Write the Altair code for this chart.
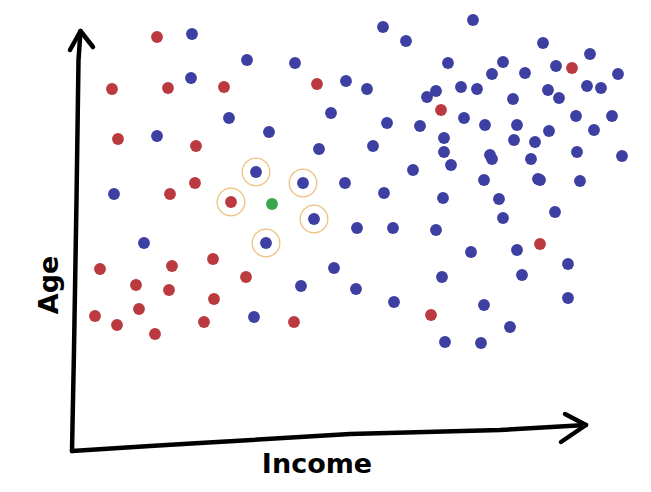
import altair as alt
import pandas as pd

# class A (red) points: income, age
red_income = [87, 42, 98, 154, 247, 48, 126, 100, 125, 161, 30, 102, 143, 176, 66, 99, 69, 144,
              25, 47, 85, 134, 224, 502, 371, 470, 361]
red_age = [415, 363, 364, 365, 368, 313, 306, 258, 269, 250, 183, 186, 193, 175, 167, 162, 143, 153,
           136, 127, 118, 130, 130, 384, 342, 208, 137]

# class B (blue) points
blue_income = [122, 313, 177, 225, 121, 276, 297, 159, 261, 317, 87, 199, 249, 303, 186, 233, 275, 314,
               44, 244, 287, 323, 74, 196, 403, 336, 473, 520, 378, 433, 422, 455, 486, 548, 366, 357,
               391, 407, 478, 489, 517, 531, 443, 350, 394, 415, 447, 506, 542, 479, 524, 374, 374, 381,
               444, 465, 420, 422, 461, 507, 552, 343, 414, 468, 470, 510, 373, 429, 485, 433, 366, 401,
               447, 498, 372, 452, 264, 231, 286, 324, 414, 498, 440, 375, 411, 184]
blue_age = [418, 425, 392, 389, 374, 371, 363, 334, 339, 329, 316, 320, 303, 306, 280, 269, 269, 259,
            258, 233, 224, 224, 209, 209, 432, 411, 409, 398, 389, 390, 378, 379, 386, 378, 361, 355,
            365, 363, 362, 354, 366, 364, 353, 326, 334, 327, 327, 336, 336, 321, 322, 314, 300, 287,
            312, 310, 297, 293, 293, 300, 296, 282, 272, 273, 272, 271, 254, 253, 240, 234, 222, 200,
            202, 188, 175, 177, 184, 166, 163, 150, 147, 154, 125, 110, 109, 135]

# new point to classify
new_income = [202]
new_age = [248]

# its 5 nearest neighbours
nn_income = [186, 233, 161, 244, 196]
nn_age = [280, 269, 250, 233, 209]

# hand-drawn axis arrows (decoration)
ax_income = [2, 4, 6.5, 8.5, 10.5, 0, 10.5, 23, 2, 80, 130, 280, 430, 516, 495, 516, 491]
ax_age = [1, 102, 252, 392, 421, 402, 421, 405, 1, 6, 9, 18, 22, 27, 38, 27, 10]
ax_group = ["v", "v", "v", "v", "v", "vh", "vh", "vh", "h", "h", "h", "h", "h", "h", "hh", "hh", "hh"]

pts = pd.DataFrame({
    "income": red_income + blue_income + new_income,
    "age": red_age + blue_age + new_age,
    "cls": ["A"] * len(red_income) + ["B"] * len(blue_income) + ["new"] * len(new_income),
})
nn = pd.DataFrame({"income": nn_income, "age": nn_age})
axes = pd.DataFrame({"income": ax_income, "age": ax_age, "g": ax_group,
                     "o": list(range(len(ax_income)))})

xs = alt.Scale(domain=[-62, 573], nice=False, zero=False)
ys = alt.Scale(domain=[-32, 444], nice=False, zero=False)

dots = alt.Chart(pts).mark_circle(size=140, opacity=1).encode(
    x=alt.X("income:Q", scale=xs, axis=None),
    y=alt.Y("age:Q", scale=ys, axis=None),
    color=alt.Color("cls:N", scale=alt.Scale(domain=["A", "B", "new"],
                                             range=["#bb3a3f", "#3d3fa2", "#37a84a"]), legend=None),
)

rings = alt.Chart(nn).mark_point(shape="circle", filled=False, size=760, color="#efc283",
                                 strokeWidth=1.3, opacity=1).encode(
    x=alt.X("income:Q", scale=xs, axis=None),
    y=alt.Y("age:Q", scale=ys, axis=None),
)

arrows = alt.Chart(axes).mark_line(color="black", strokeWidth=4.5, strokeCap="round",
                                   strokeJoin="round").encode(
    x=alt.X("income:Q", scale=xs, axis=None),
    y=alt.Y("age:Q", scale=ys, axis=None),
    detail="g:N",
    order="o:Q",
)

age_label = alt.Chart(pd.DataFrame({"t": ["Age"]})).mark_text(
    font="DejaVu Sans", fontWeight="bold", fontSize=27, angle=270, color="black"
).encode(x=alt.value(42), y=alt.value(277), text="t:N")

income_label = alt.Chart(pd.DataFrame({"t": ["Income"]})).mark_text(
    font="DejaVu Sans", fontWeight="bold", fontSize=27, color="black"
).encode(x=alt.value(309), y=alt.value(457), text="t:N")

chart = alt.layer(rings, dots, arrows, age_label, income_label).properties(
    width=635, height=476, autosize=alt.AutoSizeParams(type="none"), padding=0,
    background="white",
).configure_view(stroke=None)

chart.save("out.html", embed_options={"renderer": "svg", "actions": False})
